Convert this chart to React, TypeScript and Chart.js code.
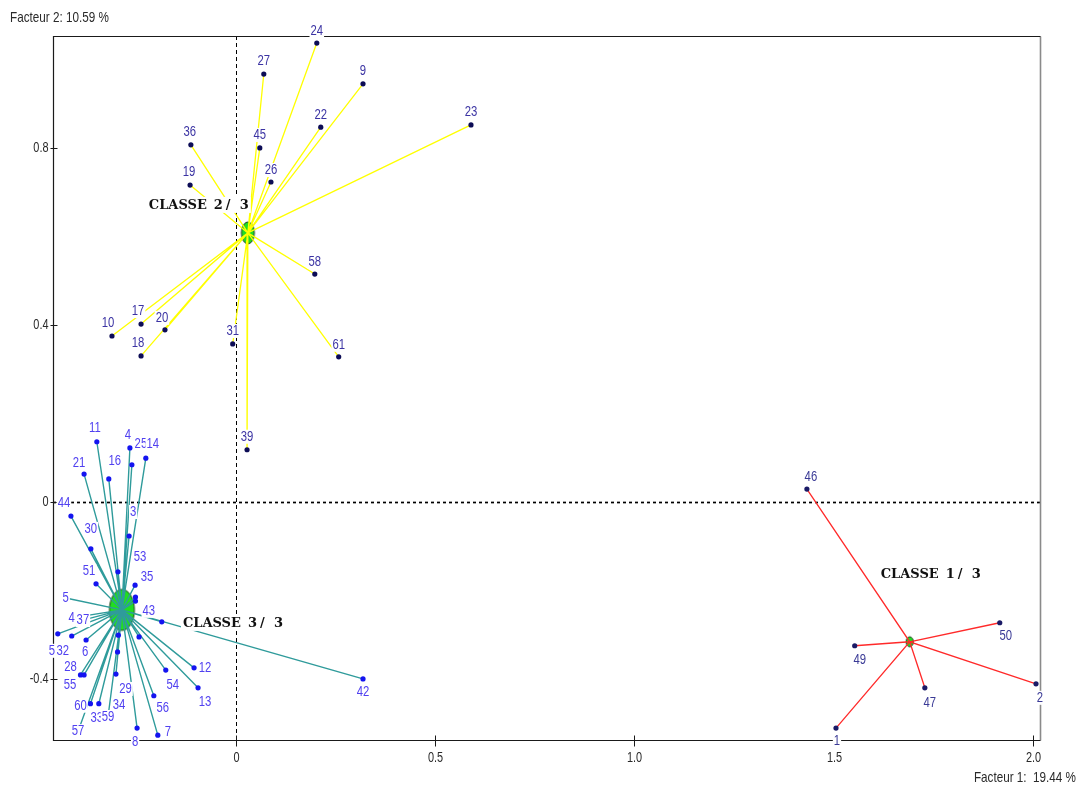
import React, { useEffect, useRef } from "react";
import { Chart, registerables } from "chart.js";
Chart.register(...registerables);

// ---------- axes ----------
const X_MIN = -0.459;
const X_MAX = 2.018;
const Y_MIN = -0.538;
const Y_MAX = 1.053;
const xTicks = [0, 0.5, 1.0, 1.5, 2.0];
const xTickLabels = ["0", "0.5", "1.0", "1.5", "2.0"];
const yTicks = [0.8, 0.4, 0, -0.4];
const yTickLabels = ["0.8", "0.4", "0", "-0.4"];
const xAxisTitle = "Facteur 1:  19.44 %";
const yAxisTitle = "Facteur 2: 10.59 %";

// ---------- classe 1 ----------
const class1Name = ["CLASSE", "1", "/", "3"];
const class1Center = [1.691, -0.316];
const class1Labels = ["46", "49", "50", "2", "47", "1"];
const class1X = [1.433, 1.553, 1.917, 2.008, 1.729, 1.506];
const class1Y = [0.029, -0.325, -0.273, -0.411, -0.42, -0.511];

// ---------- classe 2 ----------
const class2Name = ["CLASSE", "2", "/", "3"];
const class2Center = [0.03, 0.608];
const class2Labels = ["24", "27", "9", "22", "23", "36", "45", "26", "19", "58", "17", "10", "20", "18", "31", "61", "39"];
const class2X = [0.203, 0.07, 0.319, 0.213, 0.59, -0.113, 0.06, 0.088, -0.115, 0.198, -0.238, -0.311, -0.178, -0.238, -0.008, 0.258, 0.028];
const class2Y = [1.037, 0.967, 0.945, 0.847, 0.852, 0.807, 0.8, 0.723, 0.716, 0.515, 0.402, 0.375, 0.389, 0.33, 0.357, 0.328, 0.118];

// ---------- classe 3 ----------
const class3Name = ["CLASSE", "3", "/", "3"];
const class3Center = [-0.286, -0.244];
const class3Labels = ["11", "4", "25", "14", "21", "16", "44", "3", "30", "53", "51", "35", "", "", "43", "5", "4", "37", "5", "32", "", "", "6", "29", "34", "28", "55", "60", "33", "59", "57", "8", "7", "56", "54", "12", "13", "42"];
const class3X = [-0.349, -0.266, -0.261, -0.226, -0.381, -0.319, -0.414, -0.268, -0.364, -0.296, -0.351, -0.253, -0.252, -0.252, -0.186, -0.427, -0.412, -0.384, -0.447, -0.412, -0.295, -0.243, -0.376, -0.297, -0.301, -0.39, -0.381, -0.365, -0.344, -0.321, -0.396, -0.248, -0.196, -0.206, -0.176, -0.105, -0.095, 0.319];
const class3Y = [0.136, 0.122, 0.084, 0.099, 0.063, 0.052, -0.032, -0.077, -0.106, -0.158, -0.185, -0.188, -0.215, -0.224, -0.271, -0.217, -0.262, -0.267, -0.298, -0.303, -0.301, -0.305, -0.312, -0.339, -0.389, -0.391, -0.391, -0.456, -0.456, -0.486, -0.518, -0.511, -0.527, -0.438, -0.38, -0.375, -0.42, -0.4];

// ---------- label layout (pixel offsets of each label from its point) ----------
const class1LabelOffsets = [[4, -12], [5, 14], [6, 13], [4, 14], [5, 15], [1, 13]];
const class2LabelOffsets = [[0, -12], [0, -13], [0, -13], [0, -12], [0, -13], [-1, -13], [0, -13], [0, -12], [-1, -13], [0, -12], [-3, -13], [-4, -13], [-3, -12], [-3, -13], [0, -13], [0, -12], [0, -13]];
const class3LabelOffsets = [[-2, -14], [-2, -13], [9, -21], [7, -14], [-5, -11], [6, -18], [-7, -13], [4, -24], [0, -20], [22, -15], [-7, -13], [12, -8], [0, 0], [0, 0], [-13, -11], [0, 0], [0, 0], [0, 0], [-6, 17], [-9, 15], [0, 0], [0, 0], [-1, 12], [8, 37], [3, 31], [-10, -8], [-14, 10], [-10, 2], [-2, 14], [0, 0], [0, 0], [-2, 14], [10, -3], [9, 12], [7, 15], [11, 0], [7, 14], [0, 13]];
// class-name label placement relative to centroid pixel: [dx of left edge, dy of middle]
const classNameOffsets = [[-29, -68], [-99, -28], [61, 13]];
const classNamePieceX = [0, 65, 77, 91];

// ---------- styles ----------
const classStyles = [
  { line: "#ff2a2a", lineWidth: 1.3, dot: "#1a1a66", label: "#3a3a96", rx: 3.6, ry: 5 },
  { line: "#ffff00", lineWidth: 1.3, dot: "#0c0c55", label: "#3b33a3", rx: 6.5, ry: 11 },
  { line: "#2f9b9b", lineWidth: 1.4, dot: "#1414f0", label: "#5040f0", rx: 12.5, ry: 20.5 },
];

const NARROW = 0.78;
const LABEL_SIZE = 14.5;

function ellipseImg(rx: number, ry: number) {
  const c = document.createElement("canvas");
  c.width = Math.ceil(rx * 2 + 4);
  c.height = Math.ceil(ry * 2 + 4);
  const g = c.getContext("2d")!;
  g.beginPath();
  g.ellipse(c.width / 2, c.height / 2, rx, ry, 0, 0, Math.PI * 2);
  g.fillStyle = "#22dd22";
  g.fill();
  g.strokeStyle = "#1d3d1d";
  g.lineWidth = 1;
  g.stroke();
  return c;
}

function narrowText(
  ctx: CanvasRenderingContext2D,
  text: string,
  x: number,
  y: number,
  size: number,
  color: string,
  align: "center" | "left" | "right",
  bg: boolean
) {
  if (!text) return;
  ctx.save();
  ctx.font = `${size}px "Liberation Sans", Arial, sans-serif`;
  const w = ctx.measureText(text).width * NARROW;
  const left = align === "center" ? x - w / 2 : align === "right" ? x - w : x;
  if (bg) {
    ctx.fillStyle = "#ffffff";
    ctx.fillRect(left - 1, y - 7, w + 2, 14);
  }
  ctx.translate(left, y);
  ctx.scale(NARROW, 1);
  ctx.fillStyle = color;
  ctx.textAlign = "left";
  ctx.textBaseline = "middle";
  ctx.fillText(text, 0, 0);
  ctx.restore();
}

function spokes(center: number[], xs: number[], ys: number[]) {
  const d: { x: number; y: number }[] = [];
  xs.forEach((x, i) => {
    d.push({ x: center[0], y: center[1] });
    d.push({ x, y: ys[i] });
  });
  return d;
}

const classes = [
  { center: class1Center, labels: class1Labels, xs: class1X, ys: class1Y, offsets: class1LabelOffsets, name: class1Name },
  { center: class2Center, labels: class2Labels, xs: class2X, ys: class2Y, offsets: class2LabelOffsets, name: class2Name },
  { center: class3Center, labels: class3Labels, xs: class3X, ys: class3Y, offsets: class3LabelOffsets, name: class3Name },
];

const annotPlugin = {
  id: "annot",
  beforeDatasetsDraw(chart: any) {
    const { ctx, chartArea: a, scales } = chart;
    const sx = scales.x;
    const sy = scales.y;
    ctx.save();
    const x0 = Math.round(sx.getPixelForValue(0)) + 0.5;
    const y0 = Math.round(sy.getPixelForValue(0)) + 0.5;
    // zero lines
    ctx.strokeStyle = "#000";
    ctx.lineWidth = 1;
    ctx.setLineDash([4, 3]);
    ctx.beginPath();
    ctx.moveTo(x0, a.top);
    ctx.lineTo(x0, a.bottom);
    ctx.stroke();
    ctx.lineWidth = 1.7;
    ctx.setLineDash([3, 3]);
    ctx.beginPath();
    ctx.moveTo(a.left, y0);
    ctx.lineTo(a.right, y0);
    ctx.stroke();
    ctx.setLineDash([]);
    // frame
    const L = Math.round(a.left) + 0.5;
    const R = Math.round(a.right) + 0.5;
    const T = Math.round(a.top) + 0.5;
    const B = Math.round(a.bottom) + 0.5;
    ctx.strokeStyle = "#8a8a8a";
    ctx.lineWidth = 1.6;
    ctx.beginPath();
    ctx.moveTo(R, T);
    ctx.lineTo(R, B);
    ctx.stroke();
    ctx.strokeStyle = "#1a1a1a";
    ctx.lineWidth = 1.2;
    ctx.beginPath();
    ctx.moveTo(R, T);
    ctx.lineTo(L, T);
    ctx.lineTo(L, B);
    ctx.lineTo(R, B);
    ctx.stroke();
    // y ticks
    yTicks.forEach((v, i) => {
      const py = Math.round(sy.getPixelForValue(v)) + 0.5;
      ctx.strokeStyle = "#1a1a1a";
      ctx.lineWidth = 1;
      ctx.beginPath();
      ctx.moveTo(L - 3, py);
      ctx.lineTo(L + 4, py);
      ctx.stroke();
      narrowText(ctx, yTickLabels[i], L - 5, py, 14, "#2a2a2a", "right", false);
    });
    // x ticks
    xTicks.forEach((v, i) => {
      const px = Math.round(sx.getPixelForValue(v)) + 0.5;
      ctx.strokeStyle = "#1a1a1a";
      ctx.lineWidth = 1;
      ctx.beginPath();
      ctx.moveTo(px, B - 5);
      ctx.lineTo(px, B + 6);
      ctx.stroke();
      narrowText(ctx, xTickLabels[i], px, B + 18, 14, "#2a2a2a", "center", false);
    });
    // axis titles
    narrowText(ctx, yAxisTitle, 10, 18, 15, "#2a2a2a", "left", false);
    narrowText(ctx, xAxisTitle, 1076, 778, 15, "#2a2a2a", "right", false);
    ctx.restore();
  },
  afterDatasetsDraw(chart: any) {
    const { ctx, scales } = chart;
    const sx = scales.x;
    const sy = scales.y;
    ctx.save();
    classes.forEach((c, ci) => {
      c.labels.forEach((lab, i) => {
        const px = sx.getPixelForValue(c.xs[i]) + c.offsets[i][0];
        const py = sy.getPixelForValue(c.ys[i]) + c.offsets[i][1];
        narrowText(ctx, lab, px, py, LABEL_SIZE, classStyles[ci].label, "center", true);
      });
    });
    // class names
    classes.forEach((c, ci) => {
      const cx = sx.getPixelForValue(c.center[0]) + classNameOffsets[ci][0];
      const cy = sy.getPixelForValue(c.center[1]) + classNameOffsets[ci][1];
      ctx.fillStyle = "#ffffff";
      ctx.fillRect(cx - 2, cy - 8, 104, 16);
      ctx.font = 'bold 13px "DejaVu Serif", serif';
      ctx.fillStyle = "#111";
      ctx.textAlign = "left";
      ctx.textBaseline = "middle";
      c.name.forEach((piece, k) => {
        ctx.fillText(piece, cx + classNamePieceX[k], cy + 1);
      });
    });
    ctx.restore();
  },
};

export default function App() {
  const ref = useRef<HTMLCanvasElement>(null);
  useEffect(() => {
    const canvas = ref.current!;
    const datasets: any[] = [];
    classes.forEach((c, ci) => {
      const st = classStyles[ci];
      datasets.push({
        label: "centre" + ci,
        data: [{ x: c.center[0], y: c.center[1] }],
        pointStyle: ellipseImg(st.rx, st.ry),
        pointRadius: 10,
        showLine: false,
        order: 3,
      });
      datasets.push({
        label: "lignes" + ci,
        data: spokes(c.center, c.xs, c.ys),
        showLine: true,
        borderColor: st.line,
        borderWidth: st.lineWidth,
        pointRadius: 0,
        pointHoverRadius: 0,
        fill: false,
        tension: 0,
        order: 2,
      });
      datasets.push({
        label: "points" + ci,
        data: c.xs.map((x, i) => ({ x, y: c.ys[i] })),
        showLine: false,
        pointRadius: 2.6,
        pointHoverRadius: 2.6,
        pointStyle: "circle",
        backgroundColor: st.dot,
        borderWidth: 0,
        order: 1,
      });
    });
    const chart = new Chart(canvas, {
      type: "scatter",
      data: { datasets },
      options: {
        animation: false,
        responsive: false,
        devicePixelRatio: 1,
        events: [],
        layout: { padding: { left: 53, right: 39, top: 36, bottom: 50 } },
        scales: {
          x: { type: "linear", min: X_MIN, max: X_MAX, display: false },
          y: { type: "linear", min: Y_MIN, max: Y_MAX, display: false },
        },
        plugins: { legend: { display: false }, tooltip: { enabled: false } },
      },
      plugins: [annotPlugin],
    } as any);
    return () => chart.destroy();
  }, []);
  return (
    <div style={{ position: "absolute", left: 0, top: 0, width: 1079, height: 790, background: "#fff" }}>
      <canvas ref={ref} width={1079} height={790} style={{ display: "block", width: 1079, height: 790 }} />
    </div>
  );
}
